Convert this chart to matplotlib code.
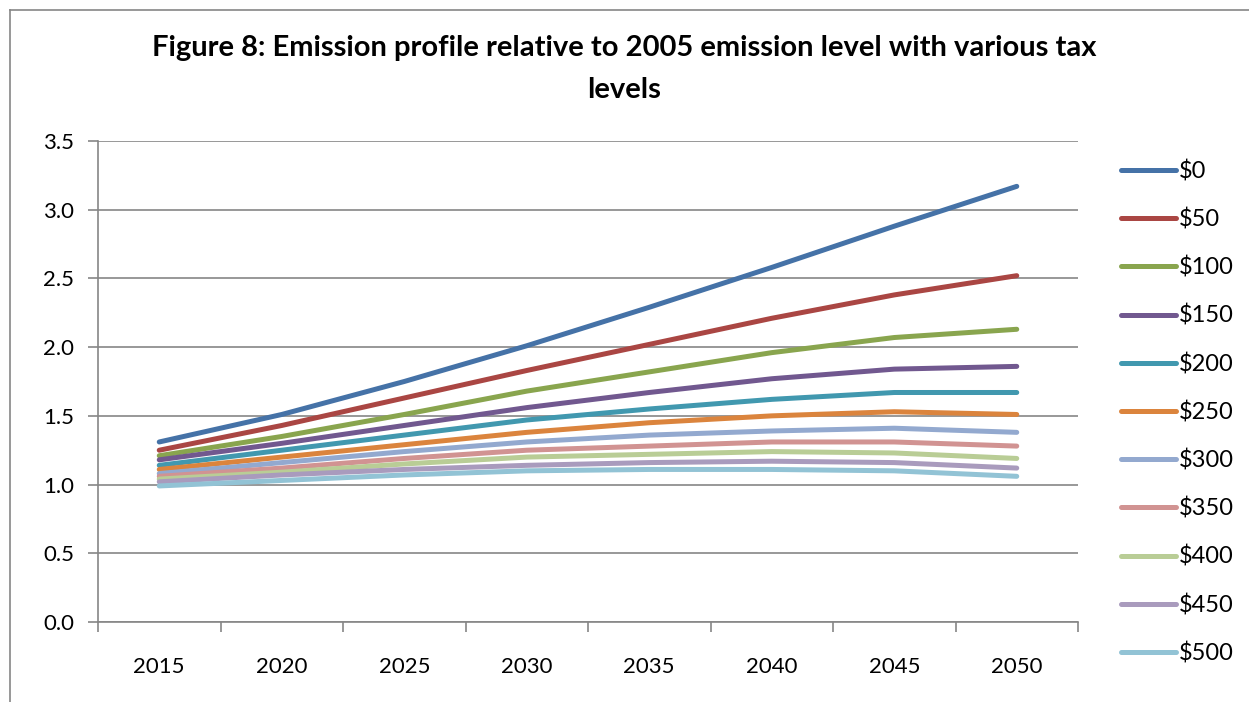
import matplotlib
matplotlib.use("Agg")
import matplotlib.pyplot as plt
from matplotlib.lines import Line2D

years = ["2015", "2020", "2025", "2030", "2035", "2040", "2045", "2050"]
tax_levels = ["$0", "$50", "$100", "$150", "$200", "$250",
              "$300", "$350", "$400", "$450", "$500"]

tax_0 = [1.31, 1.51, 1.75, 2.01, 2.29, 2.58, 2.88, 3.17]
tax_50 = [1.25, 1.43, 1.63, 1.83, 2.02, 2.21, 2.38, 2.52]
tax_100 = [1.21, 1.35, 1.51, 1.68, 1.82, 1.96, 2.07, 2.13]
tax_150 = [1.18, 1.30, 1.43, 1.56, 1.67, 1.77, 1.84, 1.86]
tax_200 = [1.14, 1.25, 1.36, 1.47, 1.55, 1.62, 1.67, 1.67]
tax_250 = [1.11, 1.20, 1.29, 1.38, 1.45, 1.50, 1.53, 1.51]
tax_300 = [1.08, 1.16, 1.24, 1.31, 1.36, 1.39, 1.41, 1.38]
tax_350 = [1.06, 1.12, 1.19, 1.25, 1.28, 1.31, 1.31, 1.28]
tax_400 = [1.04, 1.09, 1.15, 1.20, 1.22, 1.24, 1.23, 1.19]
tax_450 = [1.02, 1.07, 1.11, 1.14, 1.16, 1.17, 1.16, 1.12]
tax_500 = [0.99, 1.03, 1.07, 1.10, 1.11, 1.11, 1.10, 1.06]

series = [tax_0, tax_50, tax_100, tax_150, tax_200, tax_250,
          tax_300, tax_350, tax_400, tax_450, tax_500]
colors = ["#4572A7", "#AA4643", "#89A54E", "#71588F", "#4198AF", "#DB843D",
          "#93A9CF", "#D19392", "#B9CD96", "#A99BBD", "#92C3D5"]

plt.rcParams["font.family"] = ["Lato", "DejaVu Sans"]
grey = "#868686"

fig = plt.figure(figsize=(12.49, 7.02), dpi=100)
ax = fig.add_axes([98 / 1249, 1 - 622 / 702, 980 / 1249, 481 / 702])

x = list(range(len(years)))
handles = []
for vals, c, lab in zip(series, colors, tax_levels):
    ln, = ax.plot(x, vals, color=c, lw=3.6, solid_capstyle="round",
                  solid_joinstyle="round", label=lab)
    handles.append(ln)

ax.set_xlim(-0.5, len(years) - 0.5)
ax.set_ylim(0, 3.5)
ax.set_yticks([0, 0.5, 1.0, 1.5, 2.0, 2.5, 3.0, 3.5])
ax.set_yticklabels([f"{v:.1f}" for v in ax.get_yticks()])
ax.set_xticks(x)
ax.set_xticklabels(years)
ax.set_xticks([i - 0.5 for i in range(len(years) + 1)], minor=True)
ax.tick_params(axis="x", which="major", length=0, pad=25, labelsize=16)
ax.tick_params(axis="x", which="minor", length=7, color=grey, width=1.2)
ax.tick_params(axis="y", length=7, color=grey, width=1.2, pad=10, labelsize=16)
ax.grid(axis="y", color=grey, lw=1.2)
ax.set_axisbelow(True)
for s in ["top", "right"]:
    ax.spines[s].set_visible(False)
for s in ["left", "bottom"]:
    ax.spines[s].set_color(grey)
    ax.spines[s].set_linewidth(1.2)

fig.text(0.5, 1 - 48 / 702, "Figure 8: Emission profile relative to 2005 emission level with various tax",
         ha="center", va="center", fontsize=21, fontweight="bold")
fig.text(0.5, 1 - 90 / 702, "levels", ha="center", va="center",
         fontsize=21, fontweight="bold")

fig.legend(handles=handles, loc="upper left", bbox_to_anchor=(1100 / 1249, 1 - 139 / 702),
           frameon=False, fontsize=17, handlelength=2.33, handletextpad=0.1,
           labelspacing=1.11)

# outer chart frame
fig.add_artist(Line2D([10 / 1249, 1.0], [1 - 10 / 702] * 2, color=grey, lw=1.2))
fig.add_artist(Line2D([10 / 1249] * 2, [0.0, 1 - 10 / 702], color=grey, lw=1.2))

fig.savefig("out.png", dpi=100)
